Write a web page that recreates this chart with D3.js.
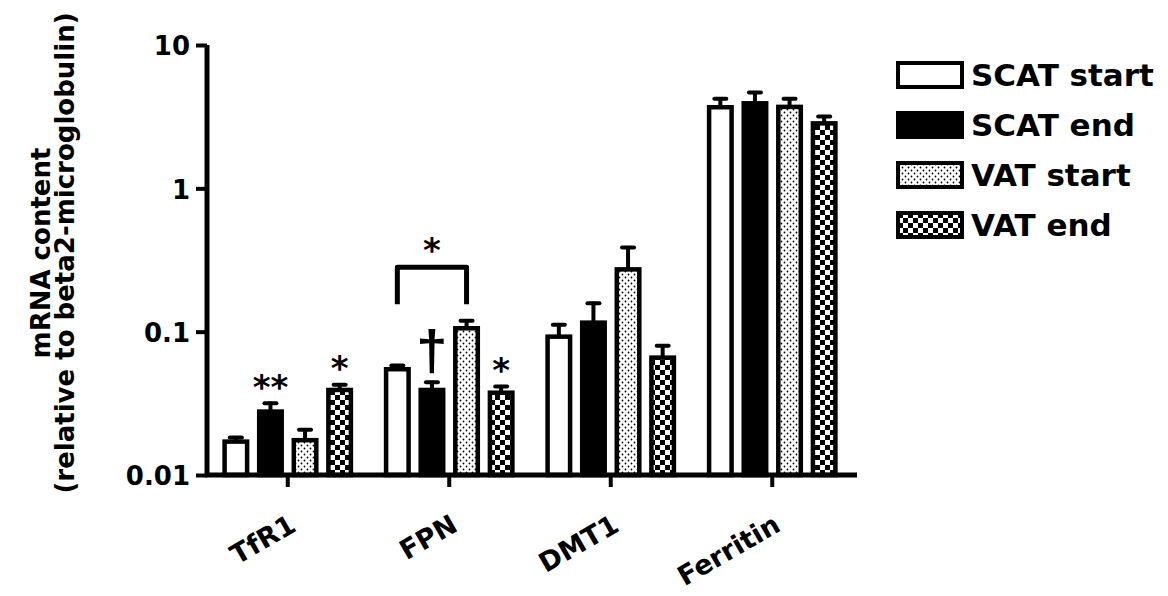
<!DOCTYPE html>
<html lang="en">
<head>
<meta charset="utf-8">
<script src="https://cdn.jsdelivr.net/npm/d3@7"></script>
<style>
  body { margin: 0; background: #fff; }
  text { font-family: "DejaVu Sans", sans-serif; font-weight: bold; fill: #000; }
</style>
</head>
<body>
<script>
// categories and series
var genes = ["TfR1", "FPN", "DMT1", "Ferritin"];
var series = ["SCAT start", "SCAT end", "VAT start", "VAT end"];

// means (one value per gene)
var scatStart = [0.0171, 0.0547, 0.0923, 3.68];
var scatEnd   = [0.0277, 0.0392, 0.1156, 3.92];
var vatStart  = [0.0175, 0.1056, 0.272, 3.70];
var vatEnd    = [0.0392, 0.0375, 0.0659, 2.84];

// upper error bar (SEM)
var scatStartSem = [0.0016, 0.0048, 0.0222, 0.64];
var scatEndSem   = [0.0048, 0.0063, 0.0464, 0.86];
var vatStartSem  = [0.0037, 0.0164, 0.124, 0.62];
var vatEndSem    = [0.0044, 0.0050, 0.0158, 0.41];

var yTicks = [0.01, 0.1, 1, 10];
var yTickLabels = ["0.01", "0.1", "1", "10"];

// significance marks: gene, series, symbol
var marks = [
  { gene: "TfR1", s: "SCAT end", label: "**" },
  { gene: "TfR1", s: "VAT end", label: "*" },
  { gene: "FPN", s: "VAT end", label: "*" }
];
var daggers = [{ gene: "FPN", s: "SCAT end", label: "\u2020" }];
var brackets = [{ gene: "FPN", from: "SCAT start", to: "VAT start", label: "*" }];

var means = [scatStart, scatEnd, vatStart, vatEnd];
var sems = [scatStartSem, scatEndSem, vatStartSem, vatEndSem];
var fills = ["#fff", "#000", "url(#dots)", "url(#checker)"];

var data = [];
genes.forEach(function(g, gi) {
  series.forEach(function(s, si) {
    data.push({ gene: g, s: s, si: si, value: means[si][gi], top: means[si][gi] + sems[si][gi] });
  });
});
function find(g, s) { return data.filter(function(d) { return d.gene == g && d.s == s; })[0]; }

var w = 1168, h = 596;
var svg = d3.select("body").append("svg").attr("width", w).attr("height", h);

// patterns
var defs = svg.append("defs");
var dots = defs.append("pattern").attr("id", "dots").attr("patternUnits", "userSpaceOnUse")
  .attr("width", 6).attr("height", 6);
dots.append("rect").attr("width", 6).attr("height", 6).attr("fill", "#fff");
dots.append("circle").attr("cx", 1.5).attr("cy", 1.5).attr("r", 0.9).attr("fill", "#000");
dots.append("circle").attr("cx", 4.5).attr("cy", 4.5).attr("r", 0.9).attr("fill", "#000");
var checker = defs.append("pattern").attr("id", "checker").attr("patternUnits", "userSpaceOnUse")
  .attr("width", 10).attr("height", 10);
checker.append("rect").attr("width", 10).attr("height", 10).attr("fill", "#fff");
checker.append("rect").attr("width", 5).attr("height", 5).attr("fill", "#000");
checker.append("rect").attr("x", 5).attr("y", 5).attr("width", 5).attr("height", 5).attr("fill", "#000");

// scales
var y = d3.scaleLog().domain([0.01, 10]).range([475, 45]);
var x0 = d3.scaleBand().domain(genes).range([207, 853]).paddingInner(0.19).paddingOuter(0.095);
var x1 = d3.scaleBand().domain(series).range([0, x0.bandwidth()]).paddingInner(0.22);
var sw = 4.5;

// bars
svg.append("g").selectAll("rect").data(data).enter().append("rect")
  .attr("x", function(d) { return x0(d.gene) + x1(d.s) + sw / 2; })
  .attr("y", function(d) { return y(d.value); })
  .attr("width", x1.bandwidth() - sw)
  .attr("height", function(d) { return y(0.01) - y(d.value); })
  .attr("fill", function(d) { return fills[d.si]; })
  .attr("stroke", "#000").attr("stroke-width", sw);

// error bars
var eb = svg.append("g").attr("stroke", "#000");
function cx(d) { return x0(d.gene) + x1(d.s) + x1.bandwidth() / 2; }
eb.selectAll("line.stem").data(data).enter().append("line").attr("class", "stem")
  .attr("x1", cx).attr("x2", cx)
  .attr("y1", function(d) { return y(d.value); })
  .attr("y2", function(d) { return y(d.top); })
  .attr("stroke-width", 4);
eb.selectAll("line.cap").data(data).enter().append("line").attr("class", "cap")
  .attr("x1", function(d) { return cx(d) - 6; }).attr("x2", function(d) { return cx(d) + 6; })
  .attr("y1", function(d) { return y(d.top) + 1.5; })
  .attr("y2", function(d) { return y(d.top) + 1.5; })
  .attr("stroke-width", 4).attr("stroke-linecap", "round");

// axes
var yAxis = svg.append("g").attr("transform", "translate(207,0)")
  .call(d3.axisLeft(y).tickValues(yTicks).tickSize(11).tickPadding(6)
    .tickFormat(function(d, i) { return yTickLabels[i]; }));
yAxis.select(".domain").attr("d", "M0," + y(10) + "V" + (y(0.01) + 2)).attr("stroke-width", 5);
yAxis.selectAll(".tick line").attr("stroke-width", 4);
yAxis.selectAll(".tick text").style("font-size", "26px").attr("dy", "0.38em");

var xAxis = svg.append("g").attr("transform", "translate(0," + y(0.01) + ")")
  .call(d3.axisBottom(x0).tickSize(12).tickSizeOuter(0).tickFormat(""));
xAxis.select(".domain").attr("d", "M205,0H857").attr("stroke-width", 5);
xAxis.selectAll(".tick line").attr("stroke-width", 4);

// category labels, rotated
svg.append("g").selectAll("text").data(genes).enter().append("text")
  .attr("transform", function(d) {
    return "translate(" + (x0(d) + x0.bandwidth() / 2 + 10) + ",530) rotate(-30)";
  })
  .attr("text-anchor", "end")
  .style("font-size", "27px")
  .text(function(d) { return d; });

// y title
var yt = svg.append("g");
yt.append("text").attr("transform", "translate(50,253) rotate(-90)")
  .attr("text-anchor", "middle").style("font-size", "26px").text("mRNA content");
yt.append("text").attr("transform", "translate(74,253) rotate(-90)")
  .attr("text-anchor", "middle").style("font-size", "26px").text("(relative to beta2-microglobulin)");

// stars over bars
svg.append("g").selectAll("text").data(marks).enter().append("text")
  .attr("x", function(d) { return cx(find(d.gene, d.s)); })
  .attr("y", function(d) { return y(find(d.gene, d.s).top) - 3; })
  .attr("text-anchor", "middle").style("font-size", "34px")
  .text(function(d) { return d.label; });

svg.append("g").selectAll("text").data(daggers).enter().append("text")
  .attr("x", function(d) { return cx(find(d.gene, d.s)); })
  .attr("y", function(d) { return y(find(d.gene, d.s).top) - 12; })
  .attr("text-anchor", "middle")
  .style("font-family", "'Liberation Sans', sans-serif").style("font-size", "56px")
  .text(function(d) { return d.label; });

// bracket
brackets.forEach(function(b) {
  var a = find(b.gene, b.from), c = find(b.gene, b.to);
  var hi = Math.min(y(a.top), y(c.top));
  var top = hi - 52, bottom = hi - 15;
  svg.append("path")
    .attr("d", "M" + cx(a) + "," + bottom + "V" + top + "H" + cx(c) + "V" + bottom)
    .attr("fill", "none").attr("stroke", "#000").attr("stroke-width", 5)
    .attr("stroke-linejoin", "round");
  svg.append("text").attr("x", (cx(a) + cx(c)) / 2).attr("y", top - 5)
    .attr("text-anchor", "middle").style("font-size", "34px").text(b.label);
});

// legend
var legend = svg.append("g").selectAll("g").data(series).enter().append("g")
  .attr("transform", function(d, i) { return "translate(898," + (63 + i * 50) + ")"; });
legend.append("rect").attr("width", 64).attr("height", 24)
  .attr("fill", function(d, i) { return fills[i]; })
  .attr("stroke", "#000").attr("stroke-width", 4);
legend.append("text").attr("x", 73).attr("y", 23).style("font-size", "31px")
  .text(function(d) { return d; });
</script>
</body>
</html>
